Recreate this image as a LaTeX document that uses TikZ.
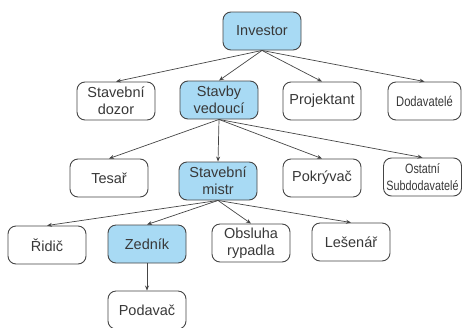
\documentclass[tikz,border=0pt]{standalone}
\usepackage{fontspec}
\setmainfont{Liberation Sans}
\newfontfamily\narrowfont{Liberation Sans}[FakeStretch=0.8]
\usetikzlibrary{arrows.meta}
\definecolor{boxfill}{HTML}{A8DAF4}
\definecolor{edge}{HTML}{454545}
\begin{document}
\begin{tikzpicture}[x=1pt,y=-1pt,
  box/.style={draw=edge, line width=0.9pt, rounded corners=8pt, minimum width=78pt, minimum height=38pt,
    align=center, inner sep=1pt, font=\fontsize{14.5}{17}\selectfont, text=black!78},
  hl/.style={box, fill=boxfill},
  arr/.style={draw=edge, line width=0.7pt, -{Stealth[length=5pt,width=4pt]}}]
\useasboundingbox (0,0) rectangle (462,327);
\node[hl] (inv) at (262,31) {Investor};
\node[box] (doz) at (116,101) {Stavební\\dozor};
\node[hl] (sv) at (219,100) {Stavby\\vedoucí};
\node[box] (proj) at (322,101) {Projektant};
\node[box, font=\narrowfont\fontsize{14}{16}\selectfont, minimum width=73pt] (dod) at (424.5,101) {Dodavatelé};
\node[box, font=\narrowfont\fontsize{13.5}{17}\selectfont, minimum width=78pt] (ost) at (422.5,177) {Ostatní\\Subdodavatelé};
\node[box] (tes) at (109,178) {Tesař};
\node[hl] (sm) at (218,181) {Stavební\\mistr};
\node[box] (pok) at (322,178) {Pokrývač};
\node[box] (rid) at (47,245) {Řidič};
\node[hl] (zed) at (147,244) {Zedník};
\node[box] (obs) at (251,243) {Obsluha\\rypadla};
\node[box] (les) at (351,242) {Lešenář};
\node[box] (pod) at (147,310) {Podavač};
\foreach \t in {doz,sv,proj,dod} \draw[arr] (inv.south) -- (\t.north);
\foreach \t in {tes,sm,pok,ost} \draw[arr] (sv.south) -- (\t.north);
\foreach \t in {rid,zed,obs,les} \draw[arr] (sm.south) -- (\t.north);
\draw[arr] (zed.south) -- (pod.north);
\end{tikzpicture}
\end{document}
